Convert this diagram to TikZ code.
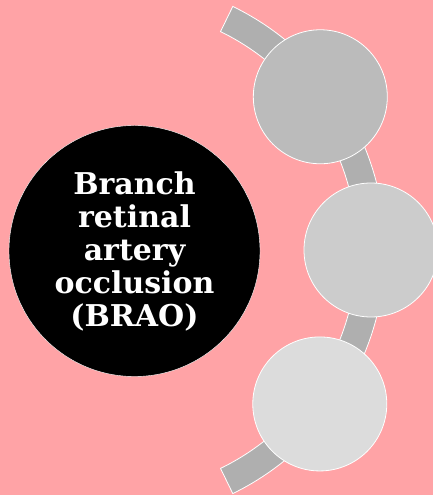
\documentclass[tikz,border=0pt]{standalone}
\usepackage{fontspec}
\setmainfont{DejaVu Serif}
\usepackage{tikz}
\usetikzlibrary{calc}
\definecolor{bgpink}{HTML}{FFA3A6}
\definecolor{bandgrey}{HTML}{AFAFAF}
\definecolor{greyA}{HTML}{BBBBBB}
\definecolor{greyB}{HTML}{CCCCCC}
\definecolor{greyC}{HTML}{DCDCDC}
\tikzset{hub/.style={draw=white, circle, fill=black, text=white, align=center, minimum size=251pt, inner sep=0pt, font=\fontsize{30}{33}\selectfont\bfseries},item/.style={draw=white, circle, minimum size=134pt, inner sep=0pt, thick},band/.style={draw=white, fill=bandgrey, thick}}

\begin{document}
\begin{tikzpicture}[x=1pt, y=1pt]
  % background
  \fill[bgpink] (0,0) rectangle (433,495);
  \useasboundingbox (0,0) rectangle (433,495);

  % arc band
  \coordinate (ctr) at (114,245);
  \draw[band] ($(ctr)+(64:271)$) arc[start angle=64, end angle=-64, radius=271]
    -- ($(ctr)+(-64:243)$) arc[start angle=-64, end angle=64, radius=243] -- cycle;

  % items on the arc
  \node[item, fill=greyA] (top) at ($(ctr)+(36.6:257)$) {};
  \node[item, fill=greyB] (mid) at ($(ctr)+(0:257)$) {};
  \node[item, fill=greyC] (bot) at ($(ctr)+(-36.8:257)$) {};

  % main circle
  \node[hub] (brao) at (134.5,244) {Branch\\ retinal\\ artery\\ occlusion\\ (BRAO)};
\end{tikzpicture}
\end{document}
